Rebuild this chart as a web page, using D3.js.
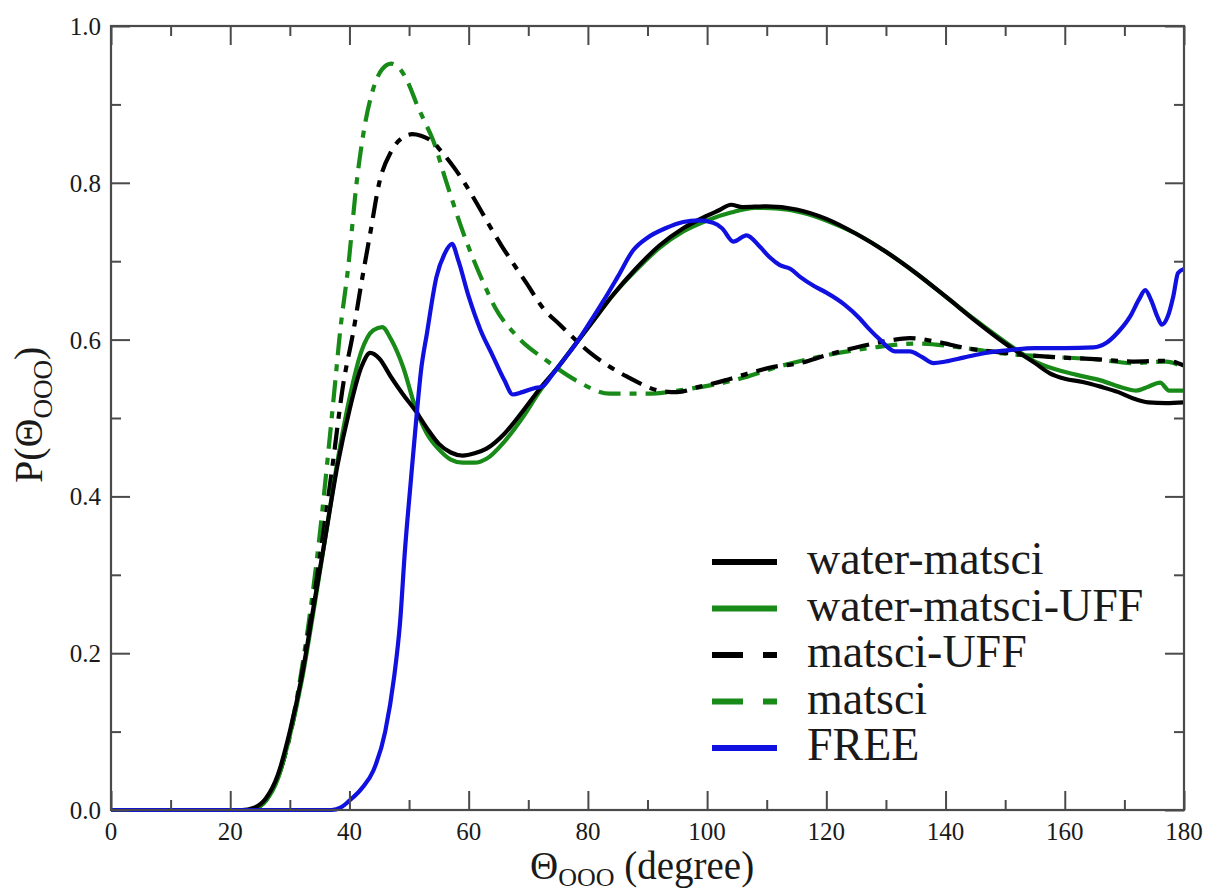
<!DOCTYPE html>
<html>
<head>
<meta charset="utf-8">
<script src="https://cdn.jsdelivr.net/npm/d3@7"></script>
<style>
  html, body { margin: 0; padding: 0; background: #fff; }
  svg { display: block; }
  text { font-family: "Liberation Serif", "Times New Roman", serif; fill: #1a1a1a; }
</style>
</head>
<body>
<svg id="chart" width="1208" height="893" font-family="Liberation Serif, serif"></svg>
<script>
// O-O-O angle distributions P(Θ_OOO) for the five force-field setups
const waterMatsciX = [0,22,24,26,28,30,32,34,36,38,40,42,43.5,45,47,49,51,53,55,57,59,61,63,66,69,72,75,78,81,84,88,92,96,100,102,104,106,110,115,120,125,130,135,140,145,150,155,157.5,160,163,166,169,171.5,174,177,180];
const waterMatsciY = [0,0,0.003,0.015,0.045,0.1,0.17,0.26,0.35,0.44,0.51,0.565,0.583,0.576,0.552,0.53,0.51,0.487,0.467,0.456,0.452,0.455,0.461,0.48,0.508,0.538,0.565,0.595,0.625,0.655,0.69,0.72,0.742,0.758,0.765,0.772,0.769,0.77,0.766,0.754,0.735,0.712,0.685,0.655,0.624,0.595,0.57,0.557,0.55,0.546,0.54,0.533,0.525,0.52,0.519,0.52];

const waterMatsciUffX = [0,22,24,26,28,30,32,34,36,38,40,42,44,45.5,47,49,51,53,55,57,59,61,63,66,69,72,75,78,81,84,88,92,96,100,104,108,112,116,120,125,130,135,140,145,150,155,158,162,166,170,172,174,176,177.5,180];
const waterMatsciUffY = [0,0,0.002,0.012,0.04,0.095,0.165,0.255,0.35,0.445,0.525,0.585,0.612,0.616,0.6,0.565,0.515,0.48,0.46,0.447,0.443,0.443,0.448,0.47,0.5,0.535,0.565,0.595,0.625,0.655,0.688,0.717,0.738,0.752,0.762,0.768,0.767,0.762,0.752,0.735,0.712,0.685,0.655,0.625,0.597,0.572,0.563,0.555,0.548,0.538,0.535,0.54,0.545,0.535,0.535];

const matsciUffX = [0,23,25,27,29,31,33,35,37,39,40.6,42,43.5,45,47,49,50.5,52,54,55.2,57.5,59.7,61.5,63.6,65.5,67.4,69.7,72.5,75.3,80.4,86.5,92.6,95,98.8,103,107,111,115.6,120,125,130,134,138,143.5,150,157.5,165,171.5,177,180];
const matsciUffY = [0,0,0.005,0.025,0.065,0.13,0.22,0.32,0.43,0.545,0.608,0.672,0.736,0.8,0.84,0.858,0.862,0.86,0.852,0.842,0.82,0.795,0.772,0.744,0.72,0.698,0.672,0.64,0.619,0.583,0.553,0.534,0.533,0.54,0.548,0.557,0.565,0.57,0.58,0.59,0.598,0.602,0.598,0.589,0.583,0.578,0.575,0.572,0.573,0.567];

const matsciX = [0,23,25,27,29,31,33,35,36.5,37.6,38.4,39.8,41.2,42.5,44,45.5,47,48.5,50,51.3,52.5,54,56.3,59.1,62.5,64.5,68,73.3,78,83.7,90,96,104.4,112.7,120,128,135,143.5,150,157.5,165,171.5,177,180];
const matsciY = [0,0,0.005,0.025,0.065,0.135,0.23,0.35,0.46,0.545,0.608,0.693,0.8,0.87,0.92,0.945,0.952,0.945,0.925,0.9,0.88,0.855,0.8,0.736,0.672,0.64,0.605,0.572,0.548,0.531,0.531,0.536,0.548,0.567,0.58,0.59,0.595,0.589,0.582,0.578,0.575,0.57,0.572,0.564];

const freeX = [0,37,38.5,40,42,44,46,47.5,48.5,49.3,50.3,51.3,52,53,54.6,56,57.2,58.3,60,62,64,66,67.4,69,71,72.3,74,76,78.1,80,82.5,85,87.6,90,93,96,98.5,101,102.5,104.4,106.6,108.9,110.5,112.2,114,115.6,118,120,123,125.6,127,129,131.5,134,136,138,140,143,146,150,155,160,164.8,167,169,171,172.5,173.5,174.5,175.5,176.3,177.3,178.2,179,180];
const freeY = [0,0,0.003,0.012,0.027,0.05,0.1,0.17,0.24,0.33,0.42,0.506,0.56,0.608,0.68,0.71,0.722,0.7,0.655,0.612,0.58,0.548,0.53,0.533,0.538,0.54,0.555,0.575,0.596,0.618,0.648,0.68,0.714,0.73,0.742,0.75,0.752,0.749,0.742,0.725,0.733,0.718,0.705,0.695,0.69,0.68,0.668,0.66,0.645,0.627,0.615,0.6,0.585,0.585,0.578,0.57,0.572,0.577,0.582,0.586,0.589,0.589,0.59,0.596,0.61,0.63,0.652,0.663,0.65,0.63,0.619,0.63,0.655,0.685,0.69];

const seriesNames = ["water-matsci", "water-matsci-UFF", "matsci-UFF", "matsci", "FREE"];
const xTickValues = [0,20,40,60,80,100,120,140,160,180];
const yTickValues = [0.0,0.2,0.4,0.6,0.8,1.0];

const series = [
  { name: seriesNames[0], xs: waterMatsciX, ys: waterMatsciY, color: "#000000", dash: null },
  { name: seriesNames[1], xs: waterMatsciUffX, ys: waterMatsciUffY, color: "#188a18", dash: null },
  { name: seriesNames[2], xs: matsciUffX, ys: matsciUffY, color: "#000000", dash: "22,9,7,9" },
  { name: seriesNames[3], xs: matsciX, ys: matsciY, color: "#188a18", dash: "22,9,7,9" },
  { name: seriesNames[4], xs: freeX, ys: freeY, color: "#1010e0", dash: null }
];

const svg = d3.select("#chart");
const plotLeft = 111, plotRight = 1184, plotTop = 26, plotBottom = 810;

const x = d3.scaleLinear().domain([0, 180]).range([plotLeft, plotRight]);
const y = d3.scaleLinear().domain([0, 1]).range([plotBottom, plotTop]);

// curves (drawn beneath the frame)
const line = d3.line().x(d => x(d[0])).y(d => y(d[1])).curve(d3.curveMonotoneX);
const curveG = svg.append("g");
// draw order: dashed first, then solids, blue on top
const order = [3, 2, 1, 0, 4];
order.forEach(i => {
  const s = series[i];
  const pts = s.xs.map((v, k) => [v, s.ys[k]]);
  curveG.append("path")
    .attr("d", line(pts))
    .attr("fill", "none")
    .attr("stroke", s.color)
    .attr("stroke-width", 4.2)
    .attr("stroke-linejoin", "round")
    .attr("stroke-dasharray", s.dash);
});

// frame and inward ticks on all four sides
const axisColor = "#4a4a4a";
function styleAxis(g) {
  g.select(".domain").remove();
  g.selectAll("line").attr("stroke", axisColor).attr("stroke-width", 2);
}
const xMinor = d3.range(10, 180, 20);
const yMinor = [0.1, 0.3, 0.5, 0.7, 0.9];

function addAxis(axisFn, scale, values, size, tx, ty) {
  const g = svg.append("g").attr("transform", `translate(${tx},${ty})`)
    .call(axisFn(scale).tickValues(values).tickSize(size).tickFormat(""));
  styleAxis(g);
}
addAxis(d3.axisTop, x, xTickValues, 19, 0, plotBottom);
addAxis(d3.axisTop, x, xMinor, 10, 0, plotBottom);
addAxis(d3.axisBottom, x, xTickValues, 19, 0, plotTop);
addAxis(d3.axisBottom, x, xMinor, 10, 0, plotTop);
addAxis(d3.axisRight, y, yTickValues, 19, plotLeft, 0);
addAxis(d3.axisRight, y, yMinor, 10, plotLeft, 0);
addAxis(d3.axisLeft, y, yTickValues, 19, plotRight, 0);
addAxis(d3.axisLeft, y, yMinor, 10, plotRight, 0);

svg.append("rect")
  .attr("x", plotLeft).attr("y", plotTop)
  .attr("width", plotRight - plotLeft).attr("height", plotBottom - plotTop)
  .attr("fill", "none").attr("stroke", axisColor).attr("stroke-width", 2.2);

// tick labels
svg.append("g").selectAll("text").data(xTickValues).join("text")
  .attr("x", d => x(d)).attr("y", 840)
  .attr("text-anchor", "middle").attr("font-size", 25)
  .text(d => d3.format("d")(d));
svg.append("g").selectAll("text").data(yTickValues).join("text")
  .attr("x", 101).attr("y", d => y(d) + 9)
  .attr("text-anchor", "end").attr("font-size", 25)
  .text(d => d3.format(".1f")(d));

// axis titles
const xt = svg.append("text").attr("x", 530).attr("y", 879).attr("font-size", 39);
xt.append("tspan").text("Θ");
xt.append("tspan").attr("font-size", 26).attr("dy", 7).text("OOO");
xt.append("tspan").attr("dy", -7).text(" (degree)");

const yt = svg.append("text").attr("transform", "translate(42,483) rotate(-90)").attr("font-size", 40);
yt.append("tspan").text("P(Θ");
yt.append("tspan").attr("font-size", 27).attr("dy", 10).text("OOO");
yt.append("tspan").attr("dy", -10).text(")");

// legend
const legend = svg.append("g");
series.forEach((s, i) => {
  const ly = 562 + i * 46.5;
  legend.append("line")
    .attr("x1", 712).attr("x2", 777).attr("y1", ly).attr("y2", ly)
    .attr("stroke", s.color).attr("stroke-width", 6)
    .attr("stroke-dasharray", s.dash ? "31,20,14,20" : null);
  legend.append("text")
    .attr("x", 807).attr("y", ly + 12)
    .attr("font-size", 46)
    .text(s.name);
});
</script>
</body>
</html>
